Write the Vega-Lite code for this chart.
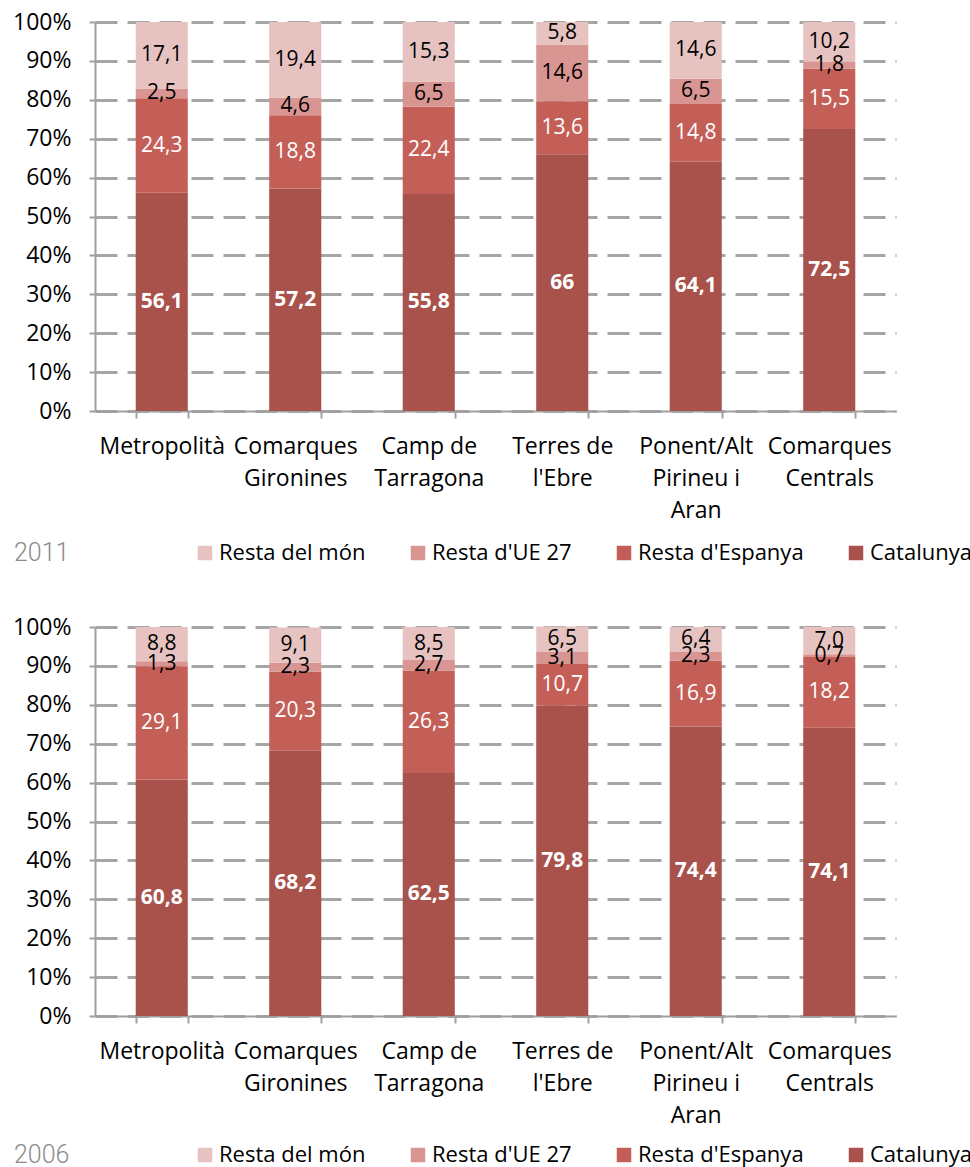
{
  "$schema": "https://vega.github.io/schema/vega-lite/v6.json",
  "padding": {"top": 11, "left": 12, "right": 0, "bottom": 5},
  "background": "white",
  "config": {
    "view": {"stroke": null},
    "font": "Open Sans",
    "axis": {"labelFont": "Open Sans", "labelColor": "black"}
  },
  "data": {
    "values": [
      {"year": "2011", "region": "Metropolità", "origin": "Catalunya", "value": 56.1, "label": "56,1"},
      {"year": "2011", "region": "Metropolità", "origin": "Resta d'Espanya", "value": 24.3, "label": "24,3"},
      {"year": "2011", "region": "Metropolità", "origin": "Resta d'UE 27", "value": 2.5, "label": "2,5"},
      {"year": "2011", "region": "Metropolità", "origin": "Resta del món", "value": 17.1, "label": "17,1"},
      {"year": "2011", "region": "Comarques Gironines", "origin": "Catalunya", "value": 57.2, "label": "57,2"},
      {"year": "2011", "region": "Comarques Gironines", "origin": "Resta d'Espanya", "value": 18.8, "label": "18,8"},
      {"year": "2011", "region": "Comarques Gironines", "origin": "Resta d'UE 27", "value": 4.6, "label": "4,6"},
      {"year": "2011", "region": "Comarques Gironines", "origin": "Resta del món", "value": 19.4, "label": "19,4"},
      {"year": "2011", "region": "Camp de Tarragona", "origin": "Catalunya", "value": 55.8, "label": "55,8"},
      {"year": "2011", "region": "Camp de Tarragona", "origin": "Resta d'Espanya", "value": 22.4, "label": "22,4"},
      {"year": "2011", "region": "Camp de Tarragona", "origin": "Resta d'UE 27", "value": 6.5, "label": "6,5"},
      {"year": "2011", "region": "Camp de Tarragona", "origin": "Resta del món", "value": 15.3, "label": "15,3"},
      {"year": "2011", "region": "Terres de l'Ebre", "origin": "Catalunya", "value": 66.0, "label": "66"},
      {"year": "2011", "region": "Terres de l'Ebre", "origin": "Resta d'Espanya", "value": 13.6, "label": "13,6"},
      {"year": "2011", "region": "Terres de l'Ebre", "origin": "Resta d'UE 27", "value": 14.6, "label": "14,6"},
      {"year": "2011", "region": "Terres de l'Ebre", "origin": "Resta del món", "value": 5.8, "label": "5,8"},
      {"year": "2011", "region": "Ponent/Alt Pirineu i Aran", "origin": "Catalunya", "value": 64.1, "label": "64,1"},
      {"year": "2011", "region": "Ponent/Alt Pirineu i Aran", "origin": "Resta d'Espanya", "value": 14.8, "label": "14,8"},
      {"year": "2011", "region": "Ponent/Alt Pirineu i Aran", "origin": "Resta d'UE 27", "value": 6.5, "label": "6,5"},
      {"year": "2011", "region": "Ponent/Alt Pirineu i Aran", "origin": "Resta del món", "value": 14.6, "label": "14,6"},
      {"year": "2011", "region": "Comarques Centrals", "origin": "Catalunya", "value": 72.5, "label": "72,5"},
      {"year": "2011", "region": "Comarques Centrals", "origin": "Resta d'Espanya", "value": 15.5, "label": "15,5"},
      {"year": "2011", "region": "Comarques Centrals", "origin": "Resta d'UE 27", "value": 1.8, "label": "1,8"},
      {"year": "2011", "region": "Comarques Centrals", "origin": "Resta del món", "value": 10.2, "label": "10,2"},
      {"year": "2006", "region": "Metropolità", "origin": "Catalunya", "value": 60.8, "label": "60,8"},
      {"year": "2006", "region": "Metropolità", "origin": "Resta d'Espanya", "value": 29.1, "label": "29,1"},
      {"year": "2006", "region": "Metropolità", "origin": "Resta d'UE 27", "value": 1.3, "label": "1,3"},
      {"year": "2006", "region": "Metropolità", "origin": "Resta del món", "value": 8.8, "label": "8,8"},
      {"year": "2006", "region": "Comarques Gironines", "origin": "Catalunya", "value": 68.2, "label": "68,2"},
      {"year": "2006", "region": "Comarques Gironines", "origin": "Resta d'Espanya", "value": 20.3, "label": "20,3"},
      {"year": "2006", "region": "Comarques Gironines", "origin": "Resta d'UE 27", "value": 2.3, "label": "2,3"},
      {"year": "2006", "region": "Comarques Gironines", "origin": "Resta del món", "value": 9.1, "label": "9,1"},
      {"year": "2006", "region": "Camp de Tarragona", "origin": "Catalunya", "value": 62.5, "label": "62,5"},
      {"year": "2006", "region": "Camp de Tarragona", "origin": "Resta d'Espanya", "value": 26.3, "label": "26,3"},
      {"year": "2006", "region": "Camp de Tarragona", "origin": "Resta d'UE 27", "value": 2.7, "label": "2,7"},
      {"year": "2006", "region": "Camp de Tarragona", "origin": "Resta del món", "value": 8.5, "label": "8,5"},
      {"year": "2006", "region": "Terres de l'Ebre", "origin": "Catalunya", "value": 79.8, "label": "79,8"},
      {"year": "2006", "region": "Terres de l'Ebre", "origin": "Resta d'Espanya", "value": 10.7, "label": "10,7"},
      {"year": "2006", "region": "Terres de l'Ebre", "origin": "Resta d'UE 27", "value": 3.1, "label": "3,1"},
      {"year": "2006", "region": "Terres de l'Ebre", "origin": "Resta del món", "value": 6.5, "label": "6,5"},
      {"year": "2006", "region": "Ponent/Alt Pirineu i Aran", "origin": "Catalunya", "value": 74.4, "label": "74,4"},
      {"year": "2006", "region": "Ponent/Alt Pirineu i Aran", "origin": "Resta d'Espanya", "value": 16.9, "label": "16,9"},
      {"year": "2006", "region": "Ponent/Alt Pirineu i Aran", "origin": "Resta d'UE 27", "value": 2.3, "label": "2,3"},
      {"year": "2006", "region": "Ponent/Alt Pirineu i Aran", "origin": "Resta del món", "value": 6.4, "label": "6,4"},
      {"year": "2006", "region": "Comarques Centrals", "origin": "Catalunya", "value": 74.1, "label": "74,1"},
      {"year": "2006", "region": "Comarques Centrals", "origin": "Resta d'Espanya", "value": 18.2, "label": "18,2"},
      {"year": "2006", "region": "Comarques Centrals", "origin": "Resta d'UE 27", "value": 0.7, "label": "0,7"},
      {"year": "2006", "region": "Comarques Centrals", "origin": "Resta del món", "value": 7.0, "label": "7,0"}
    ]
  },
  "spacing": 50,
  "vconcat": [
    {
      "width": 801,
      "height": 389,
      "transform": [
        {"filter": "datum.year == '2011'"},
        {"stack": "value", "groupby": ["region"], "sort": [{"field": "origin", "order": "ascending"}], "as": ["y0", "y1"]},
        {"calculate": "(datum.y0 + datum.y1) / 2", "as": "mid"}
      ],
      "encoding": {
        "x": {
          "field": "region", "type": "nominal",
          "sort": ["Metropolità", "Comarques Gironines", "Camp de Tarragona", "Terres de l'Ebre", "Ponent/Alt Pirineu i Aran", "Comarques Centrals"],
          "scale": {"paddingInner": 0.61, "paddingOuter": 0.305},
          "axis": {
            "title": null, "labelAngle": 0, "labelFontSize": 23, "labelLineHeight": 32, "labelPadding": 17,
            "labelLimit": 200, "labelOverlap": false,
            "labelExpr": "datum.label == 'Comarques Gironines' ? ['Comarques','Gironines'] : datum.label == 'Camp de Tarragona' ? ['Camp de','Tarragona'] : datum.label == \"Terres de l'Ebre\" ? ['Terres de',\"l'Ebre\"] : datum.label == 'Ponent/Alt Pirineu i Aran' ? ['Ponent/Alt','Pirineu i','Aran'] : datum.label == 'Comarques Centrals' ? ['Comarques','Centrals'] : datum.label",
            "domainColor": "#A0A0A0", "domainWidth": 2, "tickColor": "#A0A0A0", "tickWidth": 2, "tickSize": 7, "tickBand": "extent"
          }
        },
        "y": {
          "field": "y0", "type": "quantitative",
          "scale": {"domain": [0, 100], "nice": false},
          "axis": {
            "title": null, "values": [0, 10, 20, 30, 40, 50, 60, 70, 80, 90, 100], "labelOverlap": false,
            "labelExpr": "datum.value + '%'", "labelFontSize": 23, "labelPadding": 18,
            "domainColor": "#A0A0A0", "domainWidth": 2, "tickColor": "#A0A0A0", "tickWidth": 2, "tickSize": 6,
            "grid": true, "gridColor": "#A6A6A6", "gridWidth": 3, "gridDash": [22, 10]
          }
        }
      },
      "layer": [
        {
          "mark": {"type": "bar"},
          "encoding": {
            "y2": {"field": "y1"},
            "color": {
              "field": "origin", "type": "nominal",
              "scale": {
                "domain": ["Resta del món", "Resta d'UE 27", "Resta d'Espanya", "Catalunya"],
                "range": ["#E6C3C1", "#D99592", "#C45F58", "#A9514B"]
              },
              "legend": {
                "title": "2011", "orient": "none", "legendX": -81, "legendY": 520, "direction": "horizontal",
                "titleOrient": "left", "titleFontSize": 25, "titleColor": "#8c8c8c", "titleFontWeight": 300, "titleFont": "Roboto",
                "titlePadding": 124, "titleBaseline": "middle",
                "symbolType": "square", "symbolSize": 210, "symbolStrokeWidth": 0, "symbolOpacity": 1,
                "labelFontSize": 22, "labelFont": "Open Sans", "labelColor": "black", "labelLimit": 300, "labelOffset": 3,
                "columnPadding": 41
              }
            }
          }
        },
        {
          "transform": [{"filter": "datum.origin == 'Catalunya'"}],
          "mark": {"type": "text", "color": "white", "fontWeight": "bold", "fontSize": 21, "baseline": "middle"},
          "encoding": {
            "y": {"field": "mid", "type": "quantitative"},
            "text": {"field": "label"}
          }
        },
        {
          "transform": [{"filter": "datum.origin != 'Catalunya'"}],
          "mark": {"type": "text", "fontSize": 21, "baseline": "middle"},
          "encoding": {
            "y": {"field": "mid", "type": "quantitative"},
            "text": {"field": "label"},
            "color": {"condition": {"test": "datum.origin == \"Resta d'Espanya\"", "value": "white"}, "value": "black"}
          }
        }
      ]
    },
    {
      "width": 801,
      "height": 389,
      "transform": [
        {"filter": "datum.year == '2006'"},
        {"stack": "value", "groupby": ["region"], "sort": [{"field": "origin", "order": "ascending"}], "as": ["y0", "y1"]},
        {"calculate": "(datum.y0 + datum.y1) / 2", "as": "mid"}
      ],
      "encoding": {
        "x": {
          "field": "region", "type": "nominal",
          "sort": ["Metropolità", "Comarques Gironines", "Camp de Tarragona", "Terres de l'Ebre", "Ponent/Alt Pirineu i Aran", "Comarques Centrals"],
          "scale": {"paddingInner": 0.61, "paddingOuter": 0.305},
          "axis": {
            "title": null, "labelAngle": 0, "labelFontSize": 23, "labelLineHeight": 32, "labelPadding": 17,
            "labelLimit": 200, "labelOverlap": false,
            "labelExpr": "datum.label == 'Comarques Gironines' ? ['Comarques','Gironines'] : datum.label == 'Camp de Tarragona' ? ['Camp de','Tarragona'] : datum.label == \"Terres de l'Ebre\" ? ['Terres de',\"l'Ebre\"] : datum.label == 'Ponent/Alt Pirineu i Aran' ? ['Ponent/Alt','Pirineu i','Aran'] : datum.label == 'Comarques Centrals' ? ['Comarques','Centrals'] : datum.label",
            "domainColor": "#A0A0A0", "domainWidth": 2, "tickColor": "#A0A0A0", "tickWidth": 2, "tickSize": 7, "tickBand": "extent"
          }
        },
        "y": {
          "field": "y0", "type": "quantitative",
          "scale": {"domain": [0, 100], "nice": false},
          "axis": {
            "title": null, "values": [0, 10, 20, 30, 40, 50, 60, 70, 80, 90, 100], "labelOverlap": false,
            "labelExpr": "datum.value + '%'", "labelFontSize": 23, "labelPadding": 18,
            "domainColor": "#A0A0A0", "domainWidth": 2, "tickColor": "#A0A0A0", "tickWidth": 2, "tickSize": 6,
            "grid": true, "gridColor": "#A6A6A6", "gridWidth": 3, "gridDash": [22, 10]
          }
        }
      },
      "layer": [
        {
          "mark": {"type": "bar"},
          "encoding": {
            "y2": {"field": "y1"},
            "color": {
              "field": "origin", "type": "nominal",
              "scale": {
                "domain": ["Resta del món", "Resta d'UE 27", "Resta d'Espanya", "Catalunya"],
                "range": ["#E6C3C1", "#D99592", "#C45F58", "#A9514B"]
              },
              "legend": {
                "title": "2006", "orient": "none", "legendX": -81, "legendY": 517, "direction": "horizontal",
                "titleOrient": "left", "titleFontSize": 25, "titleColor": "#8c8c8c", "titleFontWeight": 300, "titleFont": "Roboto",
                "titlePadding": 124, "titleBaseline": "middle",
                "symbolType": "square", "symbolSize": 210, "symbolStrokeWidth": 0, "symbolOpacity": 1,
                "labelFontSize": 22, "labelFont": "Open Sans", "labelColor": "black", "labelLimit": 300, "labelOffset": 3,
                "columnPadding": 41
              }
            }
          }
        },
        {
          "transform": [{"filter": "datum.origin == 'Catalunya'"}],
          "mark": {"type": "text", "color": "white", "fontWeight": "bold", "fontSize": 21, "baseline": "middle"},
          "encoding": {
            "y": {"field": "mid", "type": "quantitative"},
            "text": {"field": "label"}
          }
        },
        {
          "transform": [{"filter": "datum.origin != 'Catalunya'"}],
          "mark": {"type": "text", "fontSize": 21, "baseline": "middle"},
          "encoding": {
            "y": {"field": "mid", "type": "quantitative"},
            "text": {"field": "label"},
            "color": {"condition": {"test": "datum.origin == \"Resta d'Espanya\"", "value": "white"}, "value": "black"}
          }
        }
      ]
    }
  ],
  "resolve": {"scale": {"color": "independent"}, "legend": {"color": "independent"}}
}
